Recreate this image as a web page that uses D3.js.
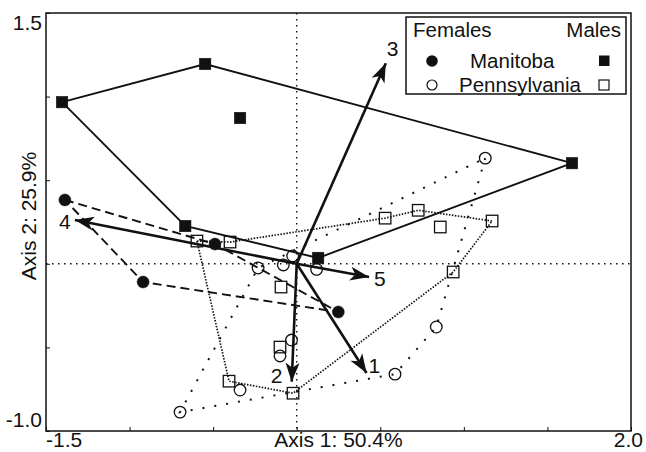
<!DOCTYPE html>
<html>
<head>
<meta charset="utf-8">
<script src="https://cdn.jsdelivr.net/npm/d3@7"></script>
<style>
  body { margin: 0; background: #fff; }
  text { font-family: "Liberation Sans", Arial, Helvetica, sans-serif; fill: #111; }
</style>
</head>
<body>
<div id="chart"></div>
<script>
// Manitoba males (filled squares) - hull in drawing order, then interior points
const mbMaleHull = [[-1.404, 0.967], [-0.548, 1.195], [1.647, 0.602], [0.128, 0.035], [-0.667, 0.226]];
const mbMaleInner = [[-0.339, 0.872]];

// Manitoba females (filled circles)
const mbFemaleHull = [[-1.387, 0.382], [-0.489, 0.118], [0.249, -0.288], [-0.919, -0.109]];

// Pennsylvania females (open circles)
const paFemaleHull = [[1.128, 0.632], [0.835, -0.378], [0.588, -0.660], [-0.698, -0.887], [-0.231, -0.025]];
const paFemaleInner = [[-0.339, -0.755], [-0.080, -0.007], [-0.024, 0.047], [0.119, -0.033], [-0.031, -0.456], [-0.100, -0.551]];

// Pennsylvania males (open squares)
const paMaleHull = [[-0.597, 0.136], [-0.405, -0.702], [-0.022, -0.774], [0.936, -0.049], [1.169, 0.256], [0.727, 0.320], [0.529, 0.273], [-0.399, 0.130]];
const paMaleInner = [[-0.094, -0.139], [-0.100, -0.498], [0.859, 0.220]];

// variable loadings (arrows)
const loadingNames = ["1", "2", "3", "4", "5"];
const loadingX = [0.418, -0.030, 0.533, -1.327, 0.433];
const loadingY = [-0.653, -0.705, 1.199, 0.262, -0.079];

const xTicks = [-1.5, -1.0, -0.5, 0, 0.5, 1.0, 1.5, 2.0];
const yTicks = [-1.0, -0.5, 0, 0.5, 1.0, 1.5];

const width = 646, height = 452;
const margin = { top: 13, right: 15, bottom: 21, left: 46 };
const fs = 21;

const svg = d3.select("#chart")
    .append("svg")
    .attr("width", width)
    .attr("height", height);

const x = d3.scaleLinear().domain([-1.5, 2.0]).range([margin.left, width - margin.right]);
const y = d3.scaleLinear().domain([-1.0, 1.5]).range([height - margin.bottom, margin.top]);

const ink = "#111";

// arrowhead
svg.append("defs").append("marker")
    .attr("id", "head")
    .attr("viewBox", "-20 -8 22 16")
    .attr("refX", 0).attr("refY", 0)
    .attr("markerWidth", 22).attr("markerHeight", 16)
    .attr("markerUnits", "userSpaceOnUse")
    .attr("orient", "auto")
    .append("path")
    .attr("d", "M0,0 L-19,-7 L-14,0 L-19,7 Z")
    .attr("fill", ink);

// zero lines
svg.append("line")
    .attr("x1", x(0)).attr("x2", x(0))
    .attr("y1", y(1.5)).attr("y2", y(-1.0))
    .attr("stroke", ink).attr("stroke-width", 1.4)
    .attr("stroke-dasharray", "1.5,4.5");
svg.append("line")
    .attr("x1", x(-1.5)).attr("x2", x(2.0))
    .attr("y1", y(0)).attr("y2", y(0))
    .attr("stroke", ink).attr("stroke-width", 1.4)
    .attr("stroke-dasharray", "1.5,4.5");

// axes (inward ticks, labels drawn separately)
svg.append("g")
    .attr("transform", `translate(0,${y(-1.0)})`)
    .call(d3.axisBottom(x).tickValues(xTicks).tickSize(-4).tickSizeOuter(0).tickFormat(""))
    .call(g => g.select(".domain").remove())
    .selectAll("line").attr("stroke", ink).attr("stroke-width", 1);
svg.append("g")
    .attr("transform", `translate(${x(-1.5)},0)`)
    .call(d3.axisLeft(y).tickValues(yTicks).tickSize(-4).tickSizeOuter(0).tickFormat(""))
    .call(g => g.select(".domain").remove())
    .selectAll("line").attr("stroke", ink).attr("stroke-width", 1);

// frame
svg.append("rect")
    .attr("x", x(-1.5)).attr("y", y(1.5))
    .attr("width", x(2.0) - x(-1.5)).attr("height", y(-1.0) - y(1.5))
    .attr("fill", "none").attr("stroke", ink).attr("stroke-width", 1.5);

const line = d3.line().x(d => x(d[0])).y(d => y(d[1])).curve(d3.curveLinearClosed);

// hulls
svg.append("path").attr("d", line(paMaleHull))
    .attr("fill", "none").attr("stroke", ink).attr("stroke-width", 1.7)
    .attr("stroke-dasharray", "1.5,1.5");
svg.append("path").attr("d", line(paFemaleHull))
    .attr("fill", "none").attr("stroke", ink).attr("stroke-width", 2)
    .attr("stroke-dasharray", "2,10");
svg.append("path").attr("d", line(mbFemaleHull))
    .attr("fill", "none").attr("stroke", ink).attr("stroke-width", 1.9)
    .attr("stroke-dasharray", "9,5");
svg.append("path").attr("d", line(mbMaleHull))
    .attr("fill", "none").attr("stroke", ink).attr("stroke-width", 1.9);

// markers
const sq = 11.5;
function squares(data, filled) {
    svg.append("g").selectAll("rect")
        .data(data)
        .enter()
        .append("rect")
        .attr("x", d => x(d[0]) - sq / 2)
        .attr("y", d => y(d[1]) - sq / 2)
        .attr("width", sq).attr("height", sq)
        .attr("fill", filled ? ink : "none")
        .attr("stroke", ink).attr("stroke-width", filled ? 0.5 : 1.3);
}
function circles(data, filled) {
    svg.append("g").selectAll("circle")
        .data(data)
        .enter()
        .append("circle")
        .attr("cx", d => x(d[0]))
        .attr("cy", d => y(d[1]))
        .attr("r", filled ? 6 : 5.8)
        .attr("fill", filled ? ink : "none")
        .attr("stroke", ink).attr("stroke-width", filled ? 0.5 : 1.3);
}
squares(paMaleHull.concat(paMaleInner), false);
circles(paFemaleHull.concat(paFemaleInner), false);
circles(mbFemaleHull, true);
squares(mbMaleHull.concat(mbMaleInner), true);

// loading arrows
const labelOffset = [[2, 0], [-21, 1], [1, -7], [-16, 9], [5, 9]];
const arrows = svg.append("g");
loadingNames.forEach((name, i) => {
    arrows.append("line")
        .attr("x1", x(0)).attr("y1", y(0))
        .attr("x2", x(loadingX[i])).attr("y2", y(loadingY[i]))
        .attr("stroke", ink).attr("stroke-width", 2.6)
        .attr("marker-end", "url(#head)");
    arrows.append("text")
        .attr("x", x(loadingX[i]) + labelOffset[i][0])
        .attr("y", y(loadingY[i]) + labelOffset[i][1])
        .attr("font-size", fs)
        .text(name);
});

// tick labels
svg.append("text").attr("x", 42).attr("y", 30).attr("text-anchor", "end").attr("font-size", fs).text("1.5");
svg.append("text").attr("x", 42).attr("y", 427).attr("text-anchor", "end").attr("font-size", fs).text("-1.0");
svg.append("text").attr("x", 46).attr("y", 447).attr("text-anchor", "start").attr("font-size", fs).text("-1.5");
svg.append("text").attr("x", 643).attr("y", 447).attr("text-anchor", "end").attr("font-size", fs).text("2.0");

// axis titles
svg.append("text")
    .attr("x", (x(-1.5) + x(2.0)) / 2).attr("y", 447)
    .attr("text-anchor", "middle").attr("font-size", fs)
    .text("Axis 1: 50.4%");
svg.append("text")
    .attr("transform", `translate(36,${(y(1.5) + y(-1.0)) / 2 - 6}) rotate(-90)`)
    .attr("text-anchor", "middle").attr("font-size", fs)
    .text("Axis 2: 25.9%");

// legend
const lfs = 20.5;
const legend = svg.append("g");
legend.append("rect")
    .attr("x", 406).attr("y", 17).attr("width", 220).attr("height", 77)
    .attr("fill", "#fff").attr("stroke", ink).attr("stroke-width", 1.5);
legend.append("text").attr("x", 413).attr("y", 37).attr("font-size", lfs).text("Females");
legend.append("text").attr("x", 621).attr("y", 37).attr("text-anchor", "end").attr("font-size", lfs).text("Males");
legend.append("circle").attr("cx", 432).attr("cy", 61).attr("r", 5.8).attr("fill", ink);
legend.append("text").attr("x", 470).attr("y", 68).attr("font-size", lfs).text("Manitoba");
legend.append("rect").attr("x", 599).attr("y", 55.5).attr("width", 10.5).attr("height", 10.5).attr("fill", ink);
legend.append("circle").attr("cx", 432).attr("cy", 85).attr("r", 5).attr("fill", "none").attr("stroke", ink).attr("stroke-width", 1.2);
legend.append("text").attr("x", 459).attr("y", 92).attr("font-size", lfs).text("Pennsylvania");
legend.append("rect").attr("x", 599).attr("y", 80).attr("width", 10).attr("height", 10).attr("fill", "none").attr("stroke", ink).attr("stroke-width", 1.2);
</script>
</body>
</html>
